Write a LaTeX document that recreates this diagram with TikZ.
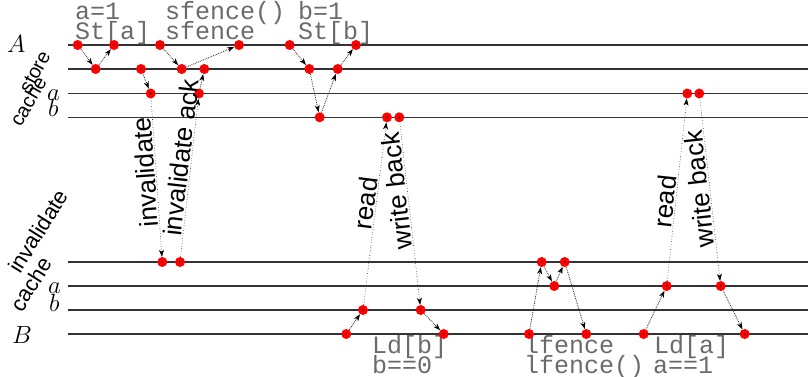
\documentclass[tikz,border=0pt]{standalone}
\usepackage{fontspec}
\newfontfamily\arialf{Liberation Sans}
\newfontfamily\courf{Liberation Mono}
\usetikzlibrary{arrows.meta}
\begin{document}
\begin{tikzpicture}[x=1pt,y=-1pt,
  hline/.style={draw=black!80, line width=1.2pt},
  dot/.style={circle, fill=red, minimum size=10pt, inner sep=0pt,
    path picture={\fill[black] (path picture bounding box.center) circle (0.8pt);}},
  sarrow/.style={densely dotted, line width=0.8pt, draw=black!85,
    -{Stealth[length=7pt,width=5pt,inset=2pt,black]}},
  larrow/.style={dotted, line width=0.6pt, draw=black!85,
    -{Stealth[length=7pt,width=5pt,inset=2pt,black]}},
  larrowrev/.style={dotted, line width=0.6pt, draw=black!85,
    {Stealth[length=7pt,width=5pt,inset=2pt,black]}-},
  code/.style={font=\courf\fontsize{25}{25}\selectfont, text=black!58, anchor=base west, inner sep=0pt},
  var/.style={font=\fontsize{23}{23}\selectfont, anchor=base west, inner sep=0pt},
  svar/.style={font=\fontsize{25}{25}\selectfont, anchor=base west, inner sep=0pt},
  side/.style={font=\arialf\fontsize{20}{20}\selectfont, inner sep=0pt},
  msg/.style={font=\arialf\fontsize{26}{26}\selectfont, sloped, allow upside down, above, inner sep=1pt},
]
\useasboundingbox (0,0) rectangle (808,377);

% horizontal lines
\foreach \yy in {45,69,93.5,117.3,262,286,310,334}
  \draw[hline] (68,\yy) -- (808,\yy);

% left labels
\node[var] (lA) at (7,53) {$A$};
\node[var] (lB) at (12,343) {$B$};
\node[svar] (la1) at (47,101) {$a$};
\node[svar] (lb1) at (48,117) {$b$};
\node[svar] (la2) at (48,293) {$a$};
\node[svar] (lb2) at (49,311) {$b$};
\node[side, rotate=62] (st) at (35,72) {store};
\node[side, rotate=60] (sc) at (28,101) {cache};
\node[side, rotate=58, font=\arialf\fontsize{22}{22}\selectfont] (iv) at (38,231) {invalidate};
\node[side, rotate=58, font=\arialf\fontsize{22}{22}\selectfont] (ic) at (31,284) {cache};

% code texts
\node[code] (t1) at (75,19.5) {a=1};
\node[code] (t2) at (75,40) {St[a]};
\node[code] (t3) at (165,19.5) {sfence()};
\node[code] (t4) at (165,40) {sfence};
\node[code] (t5) at (298,19.5) {b=1};
\node[code] (t6) at (298,40) {St[b]};
\node[code] (t7) at (372,353) {Ld[b]};
\node[code] (t8) at (372,373) {b==0};
\node[code] (t9) at (524,353) {lfence};
\node[code] (t10) at (524,373) {lfence()};
\node[code] (t11) at (654,353) {Ld[a]};
\node[code] (t12) at (653,373) {a==1};

% dots
\node[dot] (A1) at (77.7,45) {};
\node[dot] (A2) at (114,45) {};
\node[dot] (A3) at (160,45) {};
\node[dot] (A4) at (239,45) {};
\node[dot] (A5) at (289.7,45) {};
\node[dot] (A6) at (356,45) {};
\node[dot] (S1) at (95.7,69) {};
\node[dot] (S2) at (141,69) {};
\node[dot] (S3) at (181.7,69) {};
\node[dot] (S4) at (204.3,69) {};
\node[dot] (S5) at (309.3,69) {};
\node[dot] (S6) at (337.7,69) {};
\node[dot] (UA1) at (150.7,93.5) {};
\node[dot] (UA2) at (199,93.5) {};
\node[dot] (UA3) at (687.3,93.5) {};
\node[dot] (UA4) at (699.3,93.5) {};
\node[dot] (UB1) at (319.7,117.3) {};
\node[dot] (UB2) at (387,117.3) {};
\node[dot] (UB3) at (399.3,117.3) {};
\node[dot] (IC1) at (162.3,262) {};
\node[dot] (IC2) at (180,262) {};
\node[dot] (IC3) at (541.7,262) {};
\node[dot] (IC4) at (564.7,262) {};
\node[dot] (LA1) at (554.3,286) {};
\node[dot] (LA2) at (666.7,286) {};
\node[dot] (LA3) at (720.7,286) {};
\node[dot] (LB1) at (363,310) {};
\node[dot] (LB2) at (420.7,310) {};
\node[dot] (B1) at (346.3,334) {};
\node[dot] (B2) at (443.7,334) {};
\node[dot] (B3) at (529,334) {};
\node[dot] (B4) at (586.3,334) {};
\node[dot] (B5) at (643.7,334) {};
\node[dot] (B6) at (744.7,334) {};

% short arrows
\draw[sarrow] (A1) -- (S1);
\draw[sarrow] (S1) -- (A2);
\draw[sarrow] (A3) -- (S3);
\draw[sarrow] (S3) -- (A4);
\draw[sarrow] (S2) -- (UA1);
\draw[sarrow] (UA2) -- (S4);
\draw[sarrow] (A5) -- (S5);
\draw[sarrow] (S5) -- (UB1);
\draw[sarrow] (UB1) -- (S6);
\draw[sarrow] (S6) -- (A6);
\draw[sarrow] (B1) -- (LB1);
\draw[sarrow] (LB2) -- (B2);
\draw[sarrow] (B3) -- (IC3);
\draw[sarrow] (IC3) -- (LA1);
\draw[sarrow] (LA1) -- (IC4);
\draw[sarrow] (IC4) -- (B4);
\draw[sarrow] (B5) -- (LA2);
\draw[sarrow] (LA3) -- (B6);

% long arrows with labels (downward ones drawn from their ends so labels read upward)
\draw[larrowrev] (IC1) -- node[msg, pos=0.54] {invalidate} (UA1);
\draw[larrow] (IC2) -- node[msg, pos=0.62] {invalidate ack} (UA2);
\draw[larrow] (LB1) -- node[msg, pos=0.55] {read} (UB2);
\draw[larrowrev] (LB2) -- node[msg, pos=0.63] {write back} (UB3);
\draw[larrow] (LA2) -- node[msg, pos=0.43] {read} (UA3);
\draw[larrowrev] (LA3) -- node[msg, pos=0.51] {write back} (UA4);
\end{tikzpicture}
\end{document}
